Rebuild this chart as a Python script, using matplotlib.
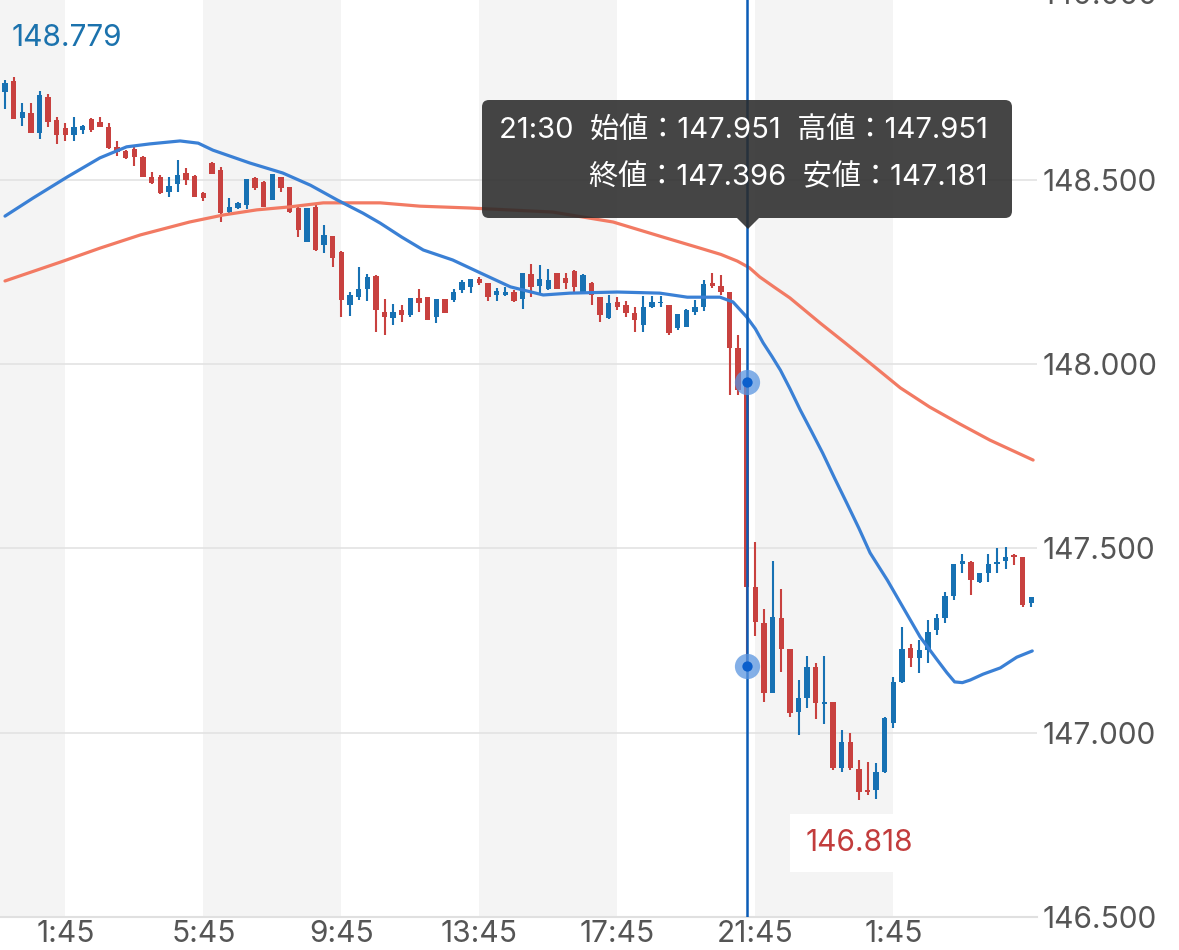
import matplotlib
matplotlib.use('Agg')
import matplotlib.pyplot as plt
from matplotlib.patches import FancyBboxPatch, Polygon

plt.rcParams['font.family'] = ['Inter', 'Noto Sans CJK JP', 'DejaVu Sans']

# ---------------- data (15-minute candles, 0:00 .. 5:45 next day) ----------------
opens = [148.739, 148.770, 148.668, 148.682, 148.628, 148.725, 148.663, 148.641, 148.622, 148.636,
         148.666, 148.657, 148.644, 148.590, 148.579, 148.584, 148.562, 148.508, 148.508, 148.467,
         148.489, 148.519, 148.511, 148.465, 148.546, 148.527, 148.413, 148.424, 148.432, 148.505,
         148.495, 148.446, 148.508, 148.481, 148.424, 148.332, 148.427, 148.324, 148.348, 148.305,
         148.161, 148.182, 148.204, 148.239, 148.142, 148.125, 148.147, 148.134, 148.180, 148.182,
         148.128, 148.177, 148.174, 148.201, 148.210, 148.231, 148.220, 148.188, 148.188, 148.196,
         148.177, 148.245, 148.212, 148.204, 148.248, 148.234, 148.253, 148.196, 148.220, 148.182,
         148.125, 148.169, 148.161, 148.139, 148.107, 148.155, 148.166, 148.161, 148.098, 148.101,
         148.142, 148.155, 148.220, 148.212, 148.196, 148.044, 147.951, 147.395, 147.298, 147.108,
         147.311, 147.227, 147.056, 147.094, 147.178, 147.078, 147.083, 146.904, 146.975, 146.901,
         146.845, 146.845, 146.893, 147.026, 147.138, 147.230, 147.203, 147.224, 147.279, 147.311,
         147.371, 147.458, 147.463, 147.409, 147.433, 147.458, 147.466, 147.482, 147.477, 147.352]
highs = [148.771, 148.779, 148.709, 148.709, 148.742, 148.733, 148.671, 148.655, 148.671, 148.649,
         148.668, 148.671, 148.655, 148.606, 148.581, 148.590, 148.565, 148.522, 148.514, 148.508,
         148.554, 148.533, 148.514, 148.467, 148.549, 148.535, 148.451, 148.440, 148.503, 148.508,
         148.497, 148.516, 148.508, 148.481, 148.427, 148.424, 148.432, 148.378, 148.348, 148.307,
         148.196, 148.264, 148.245, 148.242, 148.177, 148.163, 148.161, 148.180, 148.204, 148.182,
         148.177, 148.177, 148.204, 148.229, 148.231, 148.237, 148.220, 148.207, 148.210, 148.201,
         148.248, 148.272, 148.269, 148.258, 148.248, 148.248, 148.256, 148.245, 148.223, 148.182,
         148.188, 148.182, 148.172, 148.155, 148.185, 148.185, 148.185, 148.161, 148.136, 148.150,
         148.174, 148.229, 148.248, 148.242, 148.196, 148.079, 147.951, 147.518, 147.336, 147.466,
         147.390, 147.227, 147.143, 147.208, 147.189, 147.208, 147.083, 147.007, 146.999, 146.926,
         146.920, 146.918, 147.043, 147.151, 147.287, 147.241, 147.252, 147.306, 147.322, 147.382,
         147.458, 147.485, 147.466, 147.433, 147.485, 147.501, 147.504, 147.485, 147.477, 147.368]
lows = [148.693, 148.666, 148.647, 148.628, 148.611, 148.644, 148.598, 148.606, 148.606, 148.625,
        148.630, 148.644, 148.584, 148.565, 148.557, 148.538, 148.508, 148.489, 148.462, 148.454,
        148.467, 148.486, 148.454, 148.443, 148.516, 148.386, 148.410, 148.421, 148.421, 148.473,
        148.427, 148.446, 148.467, 148.410, 148.345, 148.332, 148.307, 148.302, 148.264, 148.128,
        148.131, 148.174, 148.172, 148.087, 148.079, 148.107, 148.115, 148.128, 148.142, 148.120,
        148.112, 148.139, 148.169, 148.193, 148.193, 148.215, 148.172, 148.172, 148.185, 148.169,
        148.150, 148.182, 148.188, 148.201, 148.204, 148.204, 148.196, 148.193, 148.161, 148.115,
        148.123, 148.147, 148.128, 148.087, 148.087, 148.153, 148.155, 148.079, 148.093, 148.101,
        148.134, 148.144, 148.207, 148.188, 147.917, 147.917, 147.181, 147.262, 147.083, 147.108,
        147.165, 147.043, 146.994, 147.067, 147.037, 147.024, 146.899, 146.893, 146.899, 146.818,
        146.831, 146.820, 146.891, 147.013, 147.135, 147.178, 147.162, 147.189, 147.265, 147.298,
        147.360, 147.433, 147.374, 147.406, 147.409, 147.433, 147.444, 147.455, 147.341, 147.341]
closes = [148.763, 148.666, 148.685, 148.628, 148.731, 148.657, 148.622, 148.622, 148.644, 148.647,
          148.636, 148.644, 148.587, 148.576, 148.560, 148.562, 148.508, 148.492, 148.465, 148.484,
          148.514, 148.500, 148.454, 148.451, 148.516, 148.410, 148.427, 148.438, 148.503, 148.478,
          148.427, 148.516, 148.478, 148.413, 148.364, 148.424, 148.310, 148.351, 148.288, 148.174,
          148.188, 148.204, 148.237, 148.147, 148.128, 148.142, 148.134, 148.180, 148.166, 148.120,
          148.177, 148.139, 148.196, 148.223, 148.231, 148.220, 148.182, 148.199, 148.196, 148.172,
          148.248, 148.210, 148.231, 148.229, 148.204, 148.220, 148.210, 148.242, 148.188, 148.134,
          148.166, 148.155, 148.139, 148.120, 148.155, 148.169, 148.169, 148.085, 148.136, 148.147,
          148.155, 148.218, 148.212, 148.196, 148.044, 147.930, 147.396, 147.300, 147.108, 147.314,
          147.227, 147.053, 147.094, 147.178, 147.081, 147.083, 146.904, 146.975, 146.904, 146.839,
          146.839, 146.893, 147.040, 147.138, 147.227, 147.203, 147.224, 147.273, 147.311, 147.371,
          147.458, 147.466, 147.414, 147.433, 147.458, 147.463, 147.477, 147.477, 147.347, 147.368]

# moving averages (candle position, price)
ma_short_pos = [0, 3.25, 7.2, 11.0, 14.1, 16.8, 20.3, 22.4, 24.1, 28.4,
                32.2, 35.4, 38.5, 41.5, 43.5, 46.0, 48.5, 51.9, 55.1, 58.6, 62.4,
                65.5, 71.0, 75.9, 79.1, 82.9, 84.4, 86.0, 87.0, 87.9, 88.9, 89.9, 91.0, 92.2, 93.5,
                94.8, 96.2, 97.6, 99.0, 100.3, 102.3, 104.1, 106.1, 108.1, 109.2, 110.1, 111.0, 111.9, 113.4,
                115.4, 117.3, 119.1]
ma_short = [148.402, 148.451, 148.508, 148.560, 148.590, 148.598, 148.606, 148.600, 148.581, 148.546,
            148.519, 148.486, 148.446, 148.410, 148.383, 148.345, 148.310, 148.283, 148.248, 148.210, 148.188,
            148.193, 148.196, 148.193, 148.182, 148.182, 148.169, 148.128, 148.096, 148.058, 148.022, 147.984,
            147.934, 147.876, 147.818,
            147.759, 147.690, 147.623, 147.555, 147.488, 147.414, 147.341, 147.260, 147.197, 147.163, 147.138,
            147.136, 147.143, 147.159,
            147.176, 147.205, 147.222]
ma_long_pos = [0, 6.4, 11.0, 15.7, 21.4, 25.3, 29.2, 33.0, 36.9, 40.8,
               43.5, 48.1, 53.9, 63.5, 70.5, 76.3, 80.6, 83.0, 84.9, 86.3, 87.5, 89.2, 91.0,
               94.5, 97.4, 100.3, 103.8, 107.2, 110.7, 114.2, 119.2]
ma_long = [148.226, 148.277, 148.315, 148.351, 148.386, 148.405, 148.419, 148.427, 148.438, 148.438,
           148.438, 148.429, 148.424, 148.413, 148.386, 148.345, 148.315, 148.298, 148.280, 148.262,
           148.237, 148.209, 148.180,
           148.112, 148.058, 148.003, 147.936, 147.884, 147.838, 147.794, 147.740]

tick_pos = [7, 23, 39, 55, 71, 87, 103]
tick_labels = ['1:45', '5:45', '9:45', '13:45', '17:45', '21:45', '1:45']
band_starts = [-9, 23, 55, 87]
y_ticks = [146.5, 147.0, 147.5, 148.0, 148.5]

sel_idx = 86
sel_time = '21:30'
high_label, high_idx = '148.779', 1
low_label, low_idx = '146.818', 99

# ---------------- styling ----------------
UP = '#1771b3'
DOWN = '#c8413f'
FS = 21.5
W, H = 1179, 950
fig = plt.figure(figsize=(W / 100, H / 100), dpi=100)
fig.patch.set_facecolor('white')
ax = fig.add_axes([0, 33 / H, 1037 / W, 917 / H])
ax.set_facecolor('white')
ax.set_xlim(-0.58, 119.65)
ax.set_ylim(146.5, 146.5 + 917 / 368.5)

for s in band_starts:
    ax.axvspan(s, s + 16, color='#f4f4f4', lw=0, zorder=0)

ax.set_yticks(y_ticks)
ax.set_yticklabels(['%.3f' % v for v in y_ticks])
ax.yaxis.grid(True, color='#e3e3e3', lw=1.2, zorder=0.5)
ax.xaxis.grid(False)
ax.set_axisbelow(True)
ax.yaxis.tick_right()
ax.set_xticks(tick_pos)
ax.set_xticklabels(tick_labels)
ax.tick_params(axis='y', length=0, pad=4.0, labelsize=FS, labelcolor='#555555')
ax.tick_params(axis='x', length=0, pad=2.5, labelsize=FS, labelcolor='#555555')
for side in ['top', 'left', 'right']:
    ax.spines[side].set_visible(False)
ax.spines['bottom'].set_color('#e0e0e0')
ax.spines['bottom'].set_linewidth(1.5)

ax.annotate('149.000', xy=(1, 149.0), xycoords=('axes fraction', 'data'),
            xytext=(4.0, 0), textcoords='offset points', va='center', ha='left',
            fontsize=FS, color='#555555', annotation_clip=False)

# candles
idx = list(range(len(opens)))
cols = [UP if c >= o else DOWN for o, c in zip(opens, closes)]
ax.vlines(idx, lows, highs, colors=cols, lw=1.5, zorder=2)
bottoms = [min(o, c) for o, c in zip(opens, closes)]
heights = [max(abs(c - o), 0.004) for o, c in zip(opens, closes)]
ax.bar(idx, heights, bottom=bottoms, width=0.62, color=cols, lw=0, zorder=3)

# moving averages
ax.plot(ma_long_pos, ma_long, color='#f27a63', lw=2.3, zorder=4, solid_capstyle='round', solid_joinstyle='round')
ax.plot(ma_short_pos, ma_short, color='#3a80d5', lw=2.3, zorder=5, solid_capstyle='round', solid_joinstyle='round')

# crosshair and markers
ax.axvline(sel_idx, color='#0b5cb6', lw=1.8, zorder=6)
ax.scatter([sel_idx, sel_idx], [opens[sel_idx], lows[sel_idx]], s=330, color='#5a95e0', alpha=0.75,
           lw=0, zorder=7)
ax.scatter([sel_idx, sel_idx], [opens[sel_idx], lows[sel_idx]], s=55, color='#0b5fcc', lw=0, zorder=8)

# high / low labels
ax.annotate(high_label, xy=(high_idx, highs[high_idx]), xytext=(-1.5, 28), textcoords='offset points',
            ha='left', va='center', fontsize=FS, color='#1b72ad', zorder=9)
ax.annotate(low_label, xy=(low_idx, lows[low_idx]), xytext=(0, -31), textcoords='offset points',
            ha='center', va='center', fontsize=FS, color='#c23c3c', zorder=9,
            bbox=dict(boxstyle='square,pad=0.5', fc='white', ec='none'))

# tooltip
tr = fig.dpi_scale_trans
box = FancyBboxPatch((4.82, (H - 218) / 100), 5.30, 1.18,
                     boxstyle='round,pad=0,rounding_size=0.07', transform=tr,
                     fc='#2b2b2b', ec='none', alpha=0.88, zorder=20)
fig.add_artist(box)
tri = Polygon([(7.37, (H - 218) / 100), (7.59, (H - 218) / 100), (7.48, (H - 229) / 100)],
              closed=True, transform=tr, fc='#2b2b2b', ec='none', alpha=0.88, zorder=20)
fig.add_artist(tri)
line1 = '%s  始値：%.3f  高値：%.3f' % (sel_time, opens[sel_idx], highs[sel_idx])
line2 = '終値：%.3f  安値：%.3f' % (closes[sel_idx], lows[sel_idx])
fig.text(988 / W, 1 - 130 / H, line1, ha='right', va='center', fontsize=21, color='white', zorder=21)
fig.text(988 / W, 1 - 178 / H, line2, ha='right', va='center', fontsize=21, color='white', zorder=21)

fig.savefig('out.png', dpi=100, facecolor='white')
